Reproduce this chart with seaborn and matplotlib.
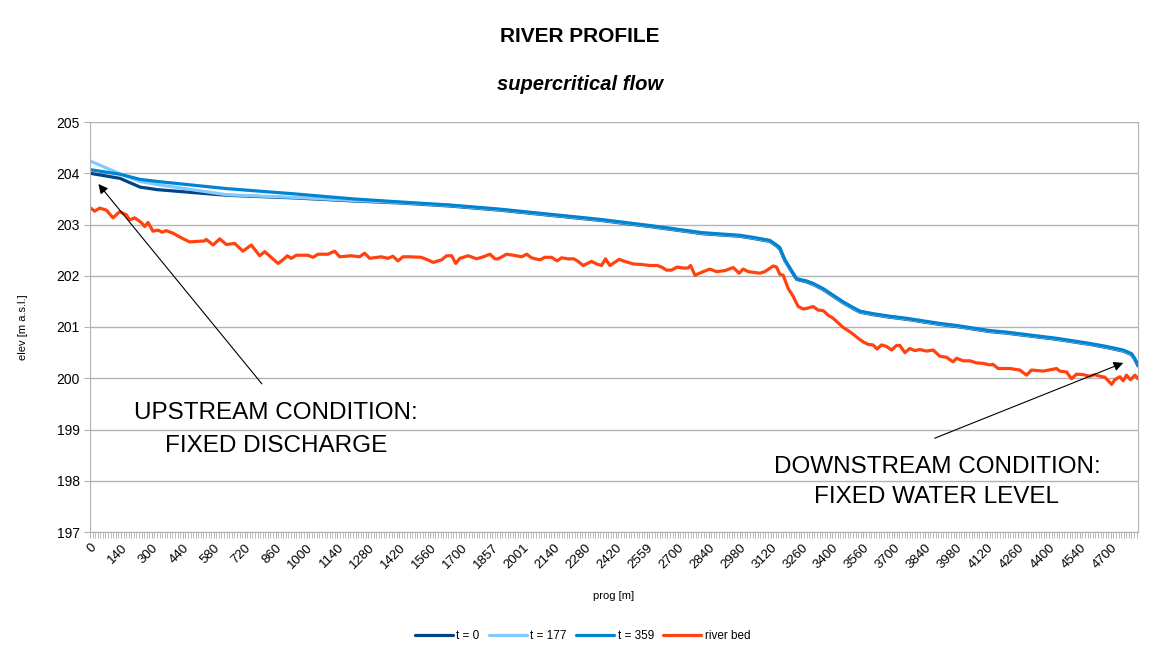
import matplotlib
matplotlib.use("Agg")
import matplotlib.pyplot as plt
import numpy as np
import pandas as pd
import seaborn as sns

# x axis category labels (prog, m)
tick_prog = [0, 140, 300, 440, 580, 720, 860, 1000, 1140, 1280, 1420, 1560, 1700,
             1857, 2001, 2140, 2280, 2420, 2559, 2700, 2840, 2980, 3120, 3260,
             3400, 3560, 3700, 3840, 3980, 4120, 4260, 4400, 4540, 4700]

# water surface profiles
prog_water = [0, 136, 239, 325, 639, 939, 1210, 1423, 1650, 1893, 2121, 2349, 2573,
              2813, 2980, 3040, 3117, 3147, 3162, 3184, 3208, 3238, 3282, 3313,
              3358, 3404, 3456, 3507, 3542, 3604, 3681, 3756, 3830, 3906, 3981,
              4057, 4132, 4208, 4283, 4358, 4434, 4509, 4591, 4678, 4756, 4794,
              4809, 4823]
elev_t0 = [204.00, 203.90, 203.73, 203.68, 203.57, 203.52, 203.46, 203.42, 203.36,
           203.28, 203.18, 203.08, 202.96, 202.82, 202.77, 202.73, 202.67, 202.58,
           202.52, 202.30, 202.13, 201.93, 201.88, 201.83, 201.73, 201.60, 201.47,
           201.36, 201.29, 201.24, 201.19, 201.15, 201.10, 201.05, 201.01, 200.96,
           200.91, 200.88, 200.84, 200.80, 200.76, 200.71, 200.66, 200.60, 200.53,
           200.46, 200.36, 200.24]
elev_t177 = [204.24, 203.99, 203.84, 203.78, 203.58, 203.53, 203.47, 203.43, 203.37,
             203.29, 203.19, 203.09, 202.97, 202.83, 202.78, 202.74, 202.68, 202.59,
             202.54, 202.31, 202.14, 201.94, 201.89, 201.84, 201.74, 201.61, 201.48,
             201.37, 201.30, 201.25, 201.20, 201.16, 201.11, 201.06, 201.02, 200.97,
             200.92, 200.89, 200.85, 200.81, 200.77, 200.72, 200.67, 200.61, 200.54,
             200.47, 200.37, 200.25]
elev_t359 = [204.07, 203.98, 203.88, 203.84, 203.70, 203.60, 203.50, 203.44, 203.38,
             203.30, 203.20, 203.10, 202.98, 202.84, 202.79, 202.75, 202.69, 202.60,
             202.55, 202.32, 202.15, 201.94, 201.90, 201.85, 201.75, 201.62, 201.49,
             201.38, 201.31, 201.26, 201.21, 201.17, 201.12, 201.07, 201.03, 200.98,
             200.93, 200.90, 200.86, 200.82, 200.78, 200.73, 200.68, 200.62, 200.55,
             200.48, 200.38, 200.25]

# river bed
prog_bed = [0, 21, 44, 74, 104, 134, 168, 185, 211, 245, 263, 280, 305, 328, 346,
            365, 396, 433, 471, 539, 546, 577, 607, 637, 675, 712, 750, 788, 811,
            871, 893, 913, 931, 954, 1006, 1029, 1052, 1097, 1127, 1150, 1202, 1240,
            1263, 1286, 1338, 1368, 1391, 1414, 1436, 1467, 1519, 1549, 1573, 1611,
            1634, 1657, 1675, 1694, 1736, 1778, 1812, 1846, 1870, 1885, 1924, 1971,
            1994, 2017, 2039, 2077, 2099, 2129, 2154, 2174, 2204, 2230, 2249, 2272,
            2310, 2333, 2355, 2373, 2393, 2435, 2460, 2498, 2535, 2573, 2606, 2626,
            2649, 2672, 2697, 2725, 2747, 2758, 2778, 2815, 2845, 2876, 2913, 2951,
            2978, 2996, 3019, 3072, 3094, 3132, 3147, 3162, 3177, 3200, 3222, 3245,
            3268, 3290, 3313, 3335, 3358, 3381, 3404, 3430, 3456, 3481, 3507, 3533,
            3559, 3582, 3604, 3622, 3642, 3665, 3688, 3710, 3725, 3748, 3770, 3793,
            3816, 3846, 3876, 3906, 3936, 3966, 3982, 4012, 4042, 4072, 4102, 4132,
            4147, 4170, 4223, 4268, 4299, 4321, 4374, 4412, 4434, 4449, 4480, 4502,
            4525, 4557, 4591, 4617, 4643, 4669, 4704, 4718, 4741, 4756, 4771, 4789,
            4809, 4823]
elev_bed = [203.33, 203.26, 203.32, 203.28, 203.13, 203.25, 203.19, 203.09, 203.13,
            203.04, 202.96, 203.04, 202.87, 202.89, 202.85, 202.88, 202.83, 202.74,
            202.66, 202.68, 202.71, 202.60, 202.72, 202.61, 202.63, 202.48, 202.60,
            202.39, 202.47, 202.24, 202.31, 202.39, 202.34, 202.40, 202.40, 202.36,
            202.42, 202.42, 202.48, 202.37, 202.39, 202.37, 202.44, 202.34, 202.37,
            202.34, 202.38, 202.29, 202.37, 202.37, 202.36, 202.31, 202.26, 202.31,
            202.39, 202.39, 202.24, 202.34, 202.39, 202.33, 202.37, 202.42, 202.33,
            202.33, 202.42, 202.39, 202.37, 202.42, 202.35, 202.31, 202.36, 202.36,
            202.29, 202.35, 202.33, 202.33, 202.28, 202.20, 202.28, 202.23, 202.20,
            202.33, 202.20, 202.32, 202.28, 202.23, 202.22, 202.20, 202.20, 202.17,
            202.11, 202.11, 202.17, 202.15, 202.15, 202.20, 202.01, 202.08, 202.13,
            202.08, 202.10, 202.16, 202.05, 202.13, 202.08, 202.05, 202.08, 202.19,
            202.17, 202.03, 202.01, 201.75, 201.60, 201.40, 201.35, 201.37, 201.40,
            201.33, 201.32, 201.23, 201.17, 201.08, 200.99, 200.93, 200.86, 200.78,
            200.71, 200.66, 200.65, 200.57, 200.65, 200.62, 200.55, 200.64, 200.64,
            200.50, 200.58, 200.54, 200.56, 200.53, 200.55, 200.43, 200.41, 200.32,
            200.39, 200.34, 200.34, 200.30, 200.29, 200.26, 200.27, 200.19, 200.19,
            200.16, 200.06, 200.16, 200.14, 200.17, 200.19, 200.14, 200.12, 199.99,
            200.08, 200.07, 200.04, 200.07, 200.04, 200.02, 199.88, 199.97, 200.03,
            199.95, 200.06, 199.97, 200.06, 199.99]

series_names = ["t = 0", "t = 177", "t = 359", "river bed"]
colors = ["#004586", "#83caff", "#0084d1", "#ff420e"]

frames = []
for name, elev in zip(series_names[:3], [elev_t0, elev_t177, elev_t359]):
    frames.append(pd.DataFrame({"prog": prog_water, "elev": elev, "series": name}))
frames.append(pd.DataFrame({"prog": prog_bed, "elev": elev_bed, "series": "river bed"}))
df = pd.concat(frames, ignore_index=True)

sns.set_style("white")
plt.rcParams["font.family"] = ["Liberation Sans", "DejaVu Sans"]
plt.rcParams["text.color"] = "black"
plt.rcParams["axes.labelcolor"] = "black"

fig = plt.figure(figsize=(11.65, 6.55), dpi=100)
ax = fig.add_axes([90 / 1165, 1 - 532 / 655, (1138 - 90) / 1165, (532 - 122) / 655])

# category-style x axis: labelled categories are evenly spaced
cat_prog = tick_prog + [4840]
cat_idx = list(range(len(cat_prog)))
ax.set_xscale("function", functions=(lambda v: np.interp(v, cat_prog, cat_idx),
                                     lambda v: np.interp(v, cat_idx, cat_prog)))

sns.lineplot(data=df, x="prog", y="elev", hue="series", hue_order=series_names,
             palette=colors, estimator=None, sort=False, linewidth=2.3, ax=ax)

ax.set_xlim(0, 4823)
ax.set_ylim(197, 205)
ax.set_yticks(range(197, 206))
ax.set_xticks(tick_prog)
ax.set_xticklabels([str(t) for t in tick_prog], rotation=45, ha="right",
                   rotation_mode="anchor", fontsize=9.5)
minor = np.interp(np.arange(0, 33.9, 1 / 12), cat_idx, cat_prog)
ax.set_xticks(minor, minor=True)
ax.tick_params(axis="x", which="both", length=4, color="#b3b3b3", direction="out",
               bottom=True, pad=3, labelcolor="black")
ax.tick_params(axis="y", length=4, color="#b3b3b3", left=True, labelsize=10,
               labelcolor="black")
ax.yaxis.grid(True, color="#b3b3b3", linewidth=1)
ax.xaxis.grid(False)
for s in ax.spines.values():
    s.set_color("#b3b3b3")
ax.spines["top"].set_visible(False)

ax.set_xlabel("prog [m]", fontsize=8, labelpad=14)
ax.set_ylabel("elev [m a.s.l.]", fontsize=8, labelpad=20)

handles, labels = ax.get_legend_handles_labels()
ax.get_legend().remove()
fig.legend(handles, labels, loc="center", bbox_to_anchor=(0.5, 1 - 636 / 655),
           ncol=4, frameon=False, fontsize=8.5, handlelength=3.2,
           handletextpad=0.3, columnspacing=0.8)

fig.text(0.498, 1 - 37 / 655, "RIVER PROFILE", ha="center", va="center",
         fontsize=15, fontweight="bold")
fig.text(0.498, 1 - 85 / 655, "supercritical flow", ha="center", va="center",
         fontsize=14.5, fontweight="bold", fontstyle="italic")

# boundary condition notes
ax.annotate("", xy=(38, 203.79), xytext=(798, 199.89),
            arrowprops=dict(arrowstyle="-|>", color="black", lw=0.8,
                            mutation_scale=14, shrinkA=0, shrinkB=0))
ax.annotate("", xy=(4756, 200.30), xytext=(3883, 198.83),
            arrowprops=dict(arrowstyle="-|>", color="black", lw=0.8,
                            mutation_scale=14, shrinkA=0, shrinkB=0))
ax.text(862, 199.32, "UPSTREAM CONDITION:", ha="center", va="center", fontsize=17.5)
ax.text(862, 198.68, "FIXED DISCHARGE", ha="center", va="center", fontsize=17.5)
ax.text(3893, 198.27, "DOWNSTREAM CONDITION:", ha="center", va="center", fontsize=17.5)
ax.text(3893, 197.68, "FIXED WATER LEVEL", ha="center", va="center", fontsize=17.5)

fig.savefig("out.png", dpi=100)
